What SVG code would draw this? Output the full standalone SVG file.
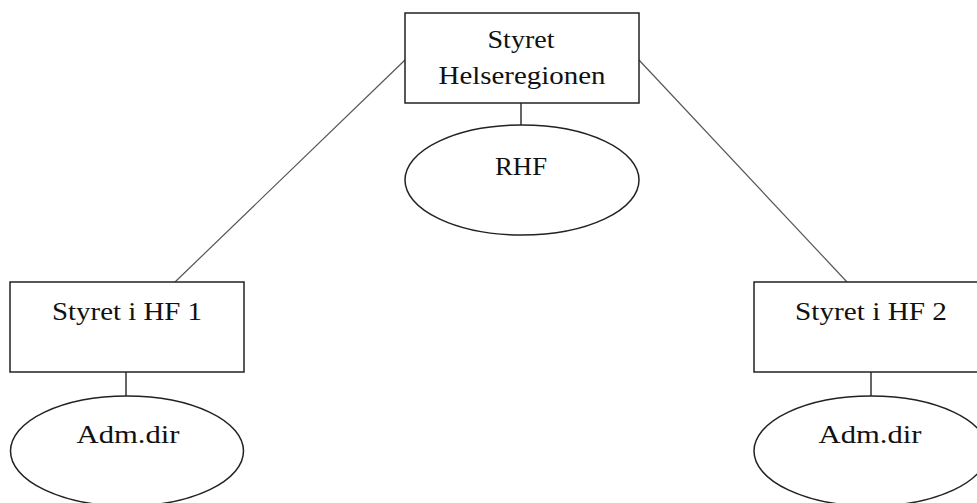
<svg xmlns="http://www.w3.org/2000/svg" width="977" height="503" viewBox="0 0 977 503">
  <style>
    .box { fill: #ffffff; stroke: #222222; stroke-width: 1.5; }
    .oval { fill: #ffffff; stroke: #222222; stroke-width: 1.5; }
    .link { stroke: #555555; stroke-width: 1.2; fill: none; }
    .stem { stroke: #333333; stroke-width: 1.5; fill: none; }
    .label { font-family: "Liberation Serif", "Times New Roman", serif; font-size: 26px; fill: #111111; text-anchor: middle; }
  </style>
  <rect width="977" height="503" fill="#ffffff"/>

  <!-- connectors -->
  <g id="connectors">
    <line class="link" x1="405" y1="60" x2="175" y2="282"/>
    <line class="link" x1="639" y1="60" x2="847" y2="282"/>
    <line class="stem" x1="521" y1="103" x2="521" y2="125"/>
    <line class="stem" x1="126" y1="372" x2="126" y2="396"/>
    <line class="stem" x1="871" y1="372" x2="871" y2="396"/>
  </g>

  <!-- board of the health region -->
  <g id="styret-helseregionen">
    <rect class="box" x="405" y="13" width="234" height="90"/>
    <text class="label" x="521" y="48" textLength="67" lengthAdjust="spacingAndGlyphs">Styret</text>
    <text class="label" x="522" y="84" textLength="167" lengthAdjust="spacingAndGlyphs">Helseregionen</text>
  </g>

  <g id="rhf">
    <ellipse class="oval" cx="522" cy="180" rx="117" ry="55"/>
    <text class="label" x="521" y="175" textLength="52" lengthAdjust="spacingAndGlyphs">RHF</text>
  </g>

  <!-- health trust boards -->
  <g id="styret-hf1">
    <rect class="box" x="10" y="282" width="234" height="90"/>
    <text class="label" x="127" y="320" textLength="150" lengthAdjust="spacingAndGlyphs">Styret i HF 1</text>
  </g>

  <g id="adm-dir-1">
    <ellipse class="oval" cx="127" cy="451" rx="116.5" ry="55"/>
    <text class="label" x="128" y="443" textLength="103" lengthAdjust="spacingAndGlyphs">Adm.dir</text>
  </g>

  <g id="styret-hf2">
    <rect class="box" x="754" y="282" width="234" height="90"/>
    <text class="label" x="871" y="320" textLength="152" lengthAdjust="spacingAndGlyphs">Styret i HF 2</text>
  </g>

  <g id="adm-dir-2">
    <ellipse class="oval" cx="871" cy="451" rx="117" ry="55"/>
    <text class="label" x="870" y="443" textLength="103" lengthAdjust="spacingAndGlyphs">Adm.dir</text>
  </g>
</svg>
